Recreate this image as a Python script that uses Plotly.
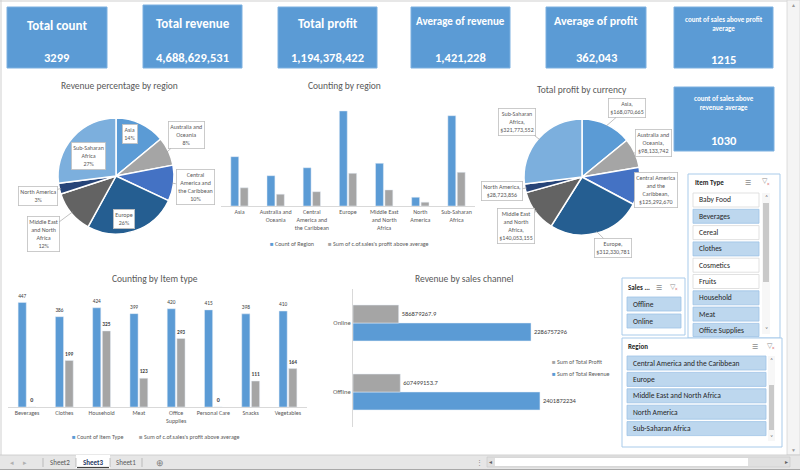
import math
import plotly.graph_objects as go

W, H = 800, 470
FONT = "Carlito, Lato, 'Open Sans', sans-serif"

# ---------------- data ----------------
kpi_titles = ["Total count", "Total revenue", "Total profit", "Average of revenue",
              "Average of profit", "count of sales above profit<br>average"]
kpi_values = ["3299", "4,688,629,531", "1,194,378,422", "1,421,228", "362,043", "1215"]
kpi7_title = "count of sales above<br>revenue average"
kpi7_value = "1030"

regions = ["Asia", "Australia and Oceania", "Central America and the Caribbean", "Europe",
           "Middle East and North Africa", "North America", "Sub-Saharan Africa"]
region_ticks = ["Asia", "Australia and<br>Oceania", "Central<br>America and<br>the Caribbean", "Europe",
                "Middle East<br>and North<br>Africa", "North<br>America", "Sub-Saharan<br>Africa"]
revenue_pct = [14, 8, 10, 26, 12, 3, 27]
profit_by_region = [168070665, 98133742, 125292670, 312330781, 140053155, 28723856, 321773552]
region_count = [459, 282, 356, 884, 397, 81, 840]
region_above = [169, 110, 133, 304, 150, 36, 313]

items = ["Beverages", "Clothes", "Household", "Meat", "Office Supplies", "Personal Care", "Snacks", "Vegetables"]
item_ticks = ["Beverages", "Clothes", "Household", "Meat", "Office<br>Supplies", "Personal Care", "Snacks", "Vegetables"]
item_count = [447, 386, 424, 399, 420, 415, 398, 410]
item_above = [0, 199, 325, 123, 293, 0, 111, 164]

channels = ["Offline", "Online"]
channel_profit = [607499153.7, 586879267.9]
channel_revenue = [2401872234, 2286757296]

item_slicer = ["Baby Food", "Beverages", "Cereal", "Clothes", "Cosmetics", "Fruits", "Household", "Meat", "Office Supplies"]
item_selected = [False, True, False, True, False, False, True, True, True]
channel_slicer = ["Offline", "Online"]
region_slicer = ["Central America and the Caribbean", "Europe", "Middle East and North Africa",
                 "North America", "Sub-Saharan Africa"]

pie_colors = ["#5B9BD5", "#A5A5A5", "#4472C4", "#255E91", "#636363", "#264478", "#7CAFDD"]
BLUE, GRAY = "#5B9BD5", "#A5A5A5"


# ---------------- helpers ----------------
def X(px):
    return px / W


def Y(py):
    return 1 - py / H


shapes, anns = [], []


def rect(x0, y0, x1, y1, fill, line=None, lw=1.0):
    shapes.append(dict(type="rect", xref="paper", yref="paper", x0=X(x0), x1=X(x1), y0=Y(y1), y1=Y(y0),
                       fillcolor=fill, line=dict(color=line if line else fill, width=lw if line else 0)))


def seg(x0, y0, x1, y1, color, lw=1.0):
    shapes.append(dict(type="line", xref="paper", yref="paper", x0=X(x0), x1=X(x1), y0=Y(y0), y1=Y(y1),
                       line=dict(color=color, width=lw)))


def txt(x, y, text, size=7, color="#595959", bold=False, xanchor="center", **kw):
    anns.append(dict(x=X(x), y=Y(y), xref="paper", yref="paper", text=f"<b>{text}</b>" if bold else text,
                     showarrow=False, font=dict(size=size, color=color, family=FONT),
                     xanchor=xanchor, yanchor="middle", **kw))


def pie_label(values, i, cx, cy, r, bx, by, text, arrow=True):
    tot = sum(values)
    c = sum(values[:i]) + values[i] / 2
    a = 2 * math.pi * c / tot
    tx, ty = cx + r * math.sin(a), cy - r * math.cos(a)
    d = dict(xref="paper", yref="paper", text=text, font=dict(size=6, color="#595959", family=FONT),
             bgcolor="white", bordercolor="#BFBFBF", borderwidth=0.8, borderpad=1.5, align="center")
    if arrow:
        d.update(x=X(tx), y=Y(ty), showarrow=True, arrowhead=0, arrowwidth=0.7, arrowcolor="#A6A6A6",
                 ax=bx - tx, ay=by - ty, standoff=0)
    else:
        d.update(x=X(bx), y=Y(by), showarrow=False, xanchor="center", yanchor="middle")
    anns.append(d)


fig = go.Figure()

# ---------------- frame ----------------
seg(0, 1, 787, 1, "#CFCFCF", 1)
seg(1, 0, 1, 455, "#CFCFCF", 1)
rect(787, 0, 800, 455, "#F4F4F4", "#D6D6D6", 0.8)
txt(793.5, 5, "▲", size=5, color="#9A9A9A")
txt(793.5, 450, "▼", size=5, color="#9A9A9A")

# ---------------- KPI boxes ----------------
kpi_boxes = [(7, 7, 107, 68), (143, 5, 242, 68), (278, 7, 377, 68), (411, 7, 510, 68),
             (546, 7, 646, 68), (674, 7, 773, 68)]
kpi_title_y = [25, 24, 23, 21, 21, 23.5]
kpi_title_size = [13, 13, 13, 11, 12, 7]
kpi_value_y = [58, 57, 57, 58, 58, 59]
for k, (x0, y0, x1, y1) in enumerate(kpi_boxes):
    rect(x0, y0, x1, y1, "#5B9BD5", "#7DB0E0", 1)
    cx = (x0 + x1) / 2
    txt(cx, kpi_title_y[k], kpi_titles[k], size=kpi_title_size[k], color="white", bold=True)
    txt(cx, kpi_value_y[k], kpi_values[k], size=12.5, color="white", bold=True)
rect(674, 87, 774, 151, "#5B9BD5", "#7DB0E0", 1)
txt(724, 102.5, kpi7_title, size=7, color="white", bold=True)
txt(724, 140, kpi7_value, size=12.5, color="white", bold=True)

# ---------------- pies ----------------
R = 58
lp = (116, 176)
rp = (582, 177)
for (cx, cy), vals in [(lp, revenue_pct), (rp, profit_by_region)]:
    fig.add_trace(go.Pie(
        labels=regions, values=vals, sort=False, direction="clockwise", rotation=0,
        textinfo="none", hoverinfo="skip", showlegend=False,
        marker=dict(colors=pie_colors, line=dict(color="white", width=1.5)),
        domain=dict(x=[X(cx - R), X(cx + R)], y=[Y(cy + R), Y(cy - R)])))

txt(119, 86, "Revenue percentage by region", size=9.5)
left_boxes = [(130, 134, False), (186, 135, True), (195, 187, True), (124, 219, False),
              (43, 234, True), (38, 196, True), (88, 156, False)]
left_txt = ["Asia", "Australia and<br>Oceania", "Central<br>America and<br>the Caribbean", "Europe",
            "Middle East<br>and North<br>Africa", "North America", "Sub-Saharan<br>Africa"]
for i, (bx, by, arr) in enumerate(left_boxes):
    pie_label(revenue_pct, i, lp[0], lp[1], R * 0.97, bx, by, f"{left_txt[i]}<br>{revenue_pct[i]}%", arr)

txt(582, 90, "Total profit by currency", size=9.5)
right_boxes = [(627, 108), (653, 143), (656, 190), (613, 248), (516, 226), (502, 191), (517, 122)]
right_txt = ["Asia,", "Australia and<br>Oceania,", "Central America<br>and the<br>Caribbean,", "Europe,",
             "Middle East<br>and North<br>Africa,", "North America,", "Sub-Saharan<br>Africa,"]
for i, (bx, by) in enumerate(right_boxes):
    pie_label(profit_by_region, i, rp[0], rp[1], R * 0.97, bx, by,
              f"{right_txt[i]}<br>${profit_by_region[i]:,}", True)

# ---------------- counting by region ----------------
fig.add_trace(go.Bar(x=regions, y=region_count, marker_color=BLUE, xaxis="x", yaxis="y",
                     showlegend=False, hoverinfo="skip"))
fig.add_trace(go.Bar(x=regions, y=region_above, marker_color=GRAY, xaxis="x", yaxis="y",
                     showlegend=False, hoverinfo="skip"))
txt(344, 86, "Counting by region", size=9.5)
txt(268, 244, f"<span style='color:{BLUE}'>■</span> Count of Region", size=6, xanchor="left")
txt(326, 244, f"<span style='color:{GRAY}'>■</span> Sum of c.of.sales's profit above average", size=6,
    xanchor="left")

# ---------------- counting by item type ----------------
fig.add_trace(go.Bar(x=items, y=item_count, marker_color=BLUE, xaxis="x2", yaxis="y2",
                     text=[str(v) for v in item_count], textposition="outside",
                     textfont=dict(size=6, color="#404040", family=FONT), cliponaxis=False,
                     showlegend=False, hoverinfo="skip"))
fig.add_trace(go.Bar(x=items, y=item_above, marker_color=GRAY, xaxis="x2", yaxis="y2",
                     text=[f"<b>{v}</b>" for v in item_above], textposition="outside",
                     textfont=dict(size=6, color="#404040", family=FONT), cliponaxis=False,
                     showlegend=False, hoverinfo="skip"))
txt(155, 279, "Counting by Item type", size=9.5)
txt(70, 437, f"<span style='color:{BLUE}'>■</span> Count of Item Type", size=6, xanchor="left")
txt(137, 437, f"<span style='color:{GRAY}'>■</span> Sum of c.of.sales's profit above average", size=6,
    xanchor="left")

# ---------------- revenue by sales channel ----------------
fig.add_trace(go.Bar(y=channels, x=channel_revenue, orientation="h", marker_color=BLUE,
                     xaxis="x3", yaxis="y3", width=0.26, offset=-0.26,
                     text=[f"{v:.0f}" for v in channel_revenue], textposition="outside",
                     textfont=dict(size=6.5, color="#404040", family=FONT), cliponaxis=False,
                     showlegend=False, hoverinfo="skip"))
fig.add_trace(go.Bar(y=channels, x=channel_profit, orientation="h", marker_color=GRAY,
                     xaxis="x3", yaxis="y3", width=0.26, offset=0.0,
                     text=[f"{v:.1f}" for v in channel_profit], textposition="outside",
                     textfont=dict(size=6.5, color="#404040", family=FONT), cliponaxis=False,
                     showlegend=False, hoverinfo="skip"))
txt(464, 279, "Revenue by sales channel", size=9.5)
txt(550, 362, f"<span style='color:{GRAY}'>■</span> Sum of Total Profit", size=6, xanchor="left")
txt(550, 374, f"<span style='color:{BLUE}'>■</span> Sum of Total Revenue", size=6, xanchor="left")


# ---------------- slicers ----------------
def slicer_icons(x_multi, x_clear, y):
    txt(x_multi, y, "☰", size=7, color="#8C8C8C")
    txt(x_clear, y - 1, "▽", size=7, color="#8C8C8C")
    txt(x_clear + 3, y + 2, "×", size=5, color="#D9534F")


# item type
rect(688, 174, 780, 338, "white", "#A9CBEA", 1)
txt(693, 182, "Item Type", size=7, color="#262626", bold=True, xanchor="left")
slicer_icons(748, 765, 182)
for i, name in enumerate(item_slicer):
    yc = 200 + i * 16.3
    sel = item_selected[i]
    rect(693, yc - 7, 759, min(yc + 7, 336.5), "#BDD7EE" if sel else "white",
         "#9EC3E6" if sel else "#D9D9D9", 0.8)
    txt(697, yc, name, size=7.5, color="#262626", xanchor="left")
rect(762, 193, 770, 334, "#F7F7F7")
rect(763, 203, 769, 282, "#C9C9C9")
txt(766, 197, "˄", size=6, color="#606060")
txt(766, 329, "˅", size=6, color="#606060")

# sales channel
rect(622, 278, 685, 335, "white", "#A9CBEA", 1)
txt(626, 287, "Sales ...", size=7, color="#262626", bold=True, xanchor="left")
slicer_icons(659, 673, 287)
for i, name in enumerate(channel_slicer):
    yc = 304 + i * 17
    rect(627, yc - 7, 681, yc + 7, "#BDD7EE", "#9EC3E6", 0.8)
    txt(631, yc, name, size=7.5, color="#262626", xanchor="left")

# region
rect(622, 338, 782, 447, "white", "#A9CBEA", 1)
txt(626, 346, "Region", size=7, color="#262626", bold=True, xanchor="left")
slicer_icons(755, 770, 346)
for i, name in enumerate(region_slicer):
    yc = 363 + i * 16.4
    rect(627, yc - 7, 766, yc + 7, "#BDD7EE", "#9EC3E6", 0.8)
    txt(631, yc, name, size=7.5, color="#262626", xanchor="left")
rect(768, 356, 775, 441, "#F7F7F7")
rect(769, 385, 774, 430, "#C9C9C9")
txt(771.5, 360, "˄", size=6, color="#606060")
txt(771.5, 437, "˅", size=6, color="#606060")

# ---------------- sheet tabs ----------------
rect(0, 455, 800, 470, "#E6E6E6")
seg(0, 455, 800, 455, "#C8C8C8", 0.8)
seg(0, 469.5, 800, 469.5, "#A8A8A8", 1)
txt(12, 462.5, "◂", size=7, color="#B0B0B0")
txt(25, 462.5, "▸", size=7, color="#B0B0B0")
rect(76, 455, 110, 468, "white")
seg(77, 467.5, 109, 467.5, "#404040", 1.2)
for xs in [43, 76, 110, 142]:
    seg(xs, 458, xs, 467, "#A0A0A0", 0.6)
txt(60, 462, "Sheet2", size=7, color="#595959")
txt(92.5, 462, "Sheet3", size=7, color="#1F3864", bold=True)
txt(126, 462, "Sheet1", size=7, color="#595959")
txt(160, 462.5, "⊕", size=9, color="#7F7F7F")
txt(479, 462.5, "⋮", size=7, color="#8C8C8C")
rect(487, 457, 790, 467, "#E0E0E0", "#C8C8C8", 0.6)
rect(495, 458, 748, 466, "white")
txt(490.5, 462, "◂", size=6, color="#606060")
txt(786, 462, "▸", size=6, color="#606060")

# ---------------- layout ----------------
axis_common = dict(showgrid=False, zeroline=False, fixedrange=True)
fig.update_layout(
    width=W, height=H, margin=dict(l=0, r=0, t=0, b=0),
    paper_bgcolor="white", plot_bgcolor="rgba(0,0,0,0)",
    font=dict(family=FONT, color="#595959"),
    barmode="group", bargap=0.48, bargroupgap=0.16,
    xaxis=dict(domain=[X(221.4), X(474.6)], anchor="y", tickvals=regions, ticktext=region_ticks,
               tickfont=dict(size=6, color="#595959"), showline=True, linecolor="#D9D9D9",
               ticks="", **axis_common),
    yaxis=dict(domain=[Y(206), Y(98.5)], anchor="x", range=[0, 1000], visible=False, **axis_common),
    xaxis2=dict(domain=[X(8.4), X(306.6)], anchor="y2", tickvals=items, ticktext=item_ticks,
                tickfont=dict(size=6, color="#595959"), showline=True, linecolor="#D9D9D9",
                ticks="", **axis_common),
    yaxis2=dict(domain=[Y(407), Y(290)], anchor="x2", range=[0, 500], visible=False, **axis_common),
    xaxis3=dict(domain=[X(353), X(586.5)], anchor="y3", range=[0, 3e9], visible=False, **axis_common),
    yaxis3=dict(domain=[Y(426.5), Y(288.5)], anchor="x3", range=[-0.5, 1.5], showline=True,
                linecolor="#D9D9D9", ticks="", tickfont=dict(size=6.5, color="#595959"), **axis_common),
    shapes=shapes, annotations=anns,
)

fig.write_html("out.html")
